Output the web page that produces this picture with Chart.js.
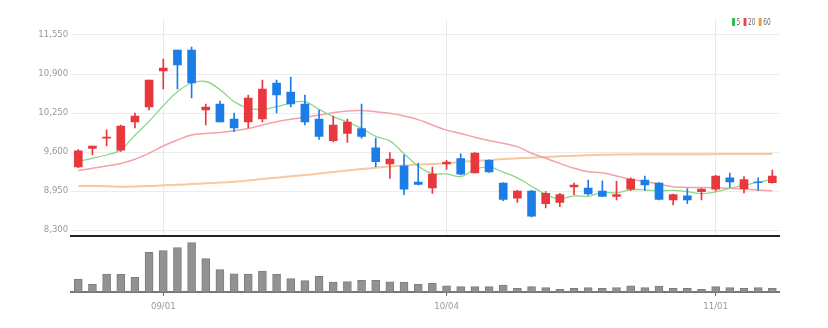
<!DOCTYPE html>
<html>
<head>
<meta charset="utf-8">
<script src="https://cdn.jsdelivr.net/npm/chart.js@4"></script>
<style>
  html, body { margin: 0; padding: 0; background: #fff; }
  #wrap { position: relative; width: 828px; height: 328px; overflow: hidden; }
  #price { position: absolute; left: 0; top: 0; }
  #volume { position: absolute; left: 0; top: 236px; }
  #legend {
    position: absolute; right: 57px; top: 16px;
    font: 9px 'Liberation Sans Narrow', 'DejaVu Sans Condensed', 'Liberation Sans', sans-serif;
    color: #666; line-height: 12px; white-space: nowrap;
    transform: scaleX(0.72); transform-origin: right center;
  }
  #legend .sw { display: inline-block; width: 4px; height: 8px; margin: 0 2px 0 5px; vertical-align: -1px; }
</style>
</head>
<body>
<div id="wrap">
  <canvas id="price" width="828" height="238" style="width:828px;height:238px"></canvas>
  <canvas id="volume" width="828" height="92" style="width:828px;height:92px"></canvas>
  <div id="legend"></div>
</div>
<script>
// Trading days (MM/DD)
const dates = [
  '08/24','08/25','08/26','08/29','08/30','08/31','09/01','09/02','09/05','09/06',
  '09/07','09/08','09/13','09/14','09/15','09/16','09/19','09/20','09/21','09/22',
  '09/23','09/26','09/27','09/28','09/29','09/30','10/04','10/05','10/06','10/07',
  '10/11','10/12','10/13','10/14','10/17','10/18','10/19','10/20','10/21','10/24',
  '10/25','10/26','10/27','10/28','10/31','11/01','11/02','11/03','11/04','11/07'
];
const tickLabels = ['09/01', '10/04', '11/01'];
const priceTicks = [8300, 8950, 9600, 10250, 10900, 11550];

const opens = [
  9350, 9660, 9830, 9630, 10100, 10350, 10950, 11300, 11300, 10300,
  10400, 10150, 10100, 10150, 10750, 10600, 10400, 10150, 9790, 9910,
  9990, 9670, 9400, 9370, 9100, 9000, 9400, 9490, 9250, 9460,
  9080, 8830, 8950, 8740, 8760, 9020, 9000, 8950, 8860, 8980,
  9130, 9080, 8800, 8870, 8940, 8980, 9170, 8990, 9100, 9090
];
const highs = [
  9640, 9700, 9970, 10050, 10250, 10800, 11150, 11300, 11350, 10400,
  10450, 10250, 10550, 10800, 10800, 10850, 10550, 10300, 10200, 10150,
  10400, 9830, 9590, 9550, 9410, 9350, 9460, 9570, 9590, 9470,
  9090, 8960, 8960, 8940, 8910, 9080, 9130, 9120, 9110, 9170,
  9200, 9090, 8900, 8990, 8990, 9210, 9250, 9190, 9170, 9300
];
const lows = [
  9340, 9550, 9700, 9610, 10000, 10300, 10650, 10650, 10500, 10050,
  10100, 9940, 10000, 10100, 10250, 10350, 10050, 9810, 9770, 9760,
  9830, 9350, 9160, 8890, 9050, 8910, 9310, 9220, 9250, 9260,
  8790, 8760, 8520, 8670, 8690, 8890, 8880, 8860, 8800, 8960,
  8960, 8800, 8720, 8740, 8800, 8950, 9010, 8920, 8960, 9080
];
const closes = [
  9620, 9700, 9850, 10030, 10200, 10800, 11000, 11050, 10750, 10350,
  10100, 10000, 10500, 10650, 10550, 10400, 10100, 9860, 10050, 10100,
  9860, 9440, 9480, 8980, 9060, 9230, 9430, 9230, 9580, 9270,
  8810, 8950, 8530, 8910, 8890, 9050, 8900, 8860, 8890, 9150,
  9050, 8810, 8890, 8800, 8980, 9200, 9100, 9140, 9090, 9200
];
const volumes = [
  310000, 185000, 440000, 435000, 360000, 985000, 1025000, 1100000, 1225000, 825000,
  550000, 445000, 440000, 515000, 435000, 325000, 275000, 385000, 240000, 250000,
  285000, 285000, 245000, 240000, 185000, 210000, 145000, 125000, 125000, 125000,
  165000, 85000, 125000, 100000, 60000, 85000, 100000, 85000, 100000, 145000,
  100000, 140000, 85000, 85000, 60000, 125000, 100000, 85000, 100000, 85000
];
// Moving averages (5, 20, 60 days)
const ma5 = [
  9440, 9495, 9550, 9635, 9880, 10110, 10370, 10605, 10750, 10775,
  10640, 10440, 10330, 10310, 10355, 10415, 10440, 10310, 10190, 10100,
  9995, 9860, 9785, 9570, 9365, 9240, 9235, 9190, 9310, 9350,
  9265, 9170, 9030, 8895, 8820, 8870, 8860, 8925, 8920, 8970,
  8970, 8950, 8960, 8940, 8905, 8935, 8995, 9045, 9100, 9145
];
const ma20 = [
  9290, 9330, 9365, 9410, 9480, 9580, 9700, 9800, 9885, 9910,
  9925, 9955, 9990, 10050, 10105, 10145, 10180, 10215, 10255, 10285,
  10290, 10270, 10245, 10200, 10140, 10050, 9965, 9910, 9845, 9790,
  9745, 9690, 9580, 9495, 9410, 9330, 9270, 9255, 9200, 9145,
  9105, 9065, 9020, 9010, 9010, 9005, 8995, 8980, 8965, 8955
];
const ma60 = [
  9035, 9033, 9030, 9022, 9025, 9033, 9045, 9055, 9065, 9078,
  9090, 9105, 9125, 9150, 9172, 9195, 9215, 9240, 9265, 9290,
  9315, 9338, 9358, 9376, 9392, 9400, 9412, 9433, 9450, 9467,
  9483, 9495, 9505, 9517, 9528, 9538, 9547, 9553, 9558, 9560,
  9562, 9562, 9562, 9563, 9564, 9565, 9565, 9566, 9566, 9567
];
const maNames = ['5', '20', '60'];
const maKeyColors = ['#2fb84a', '#ec3f47', '#f39a33'];

const UP = '#e8383d';
const DOWN = '#1d7de6';
const NARROW = "'Liberation Sans Narrow', 'DejaVu Sans Condensed', 'Liberation Sans', sans-serif";
const PLOT_LEFT = 71.2;
const PAD_RIGHT = 48.6;

Chart.defaults.font.family = NARROW;
Chart.defaults.animation = false;

const candleColors = opens.map((o, i) => (closes[i] >= o ? UP : DOWN));
const isLabelled = (i) => tickLabels.includes(dates[i]);

// Legend key for the moving averages
const legendEl = document.getElementById('legend');
maNames.forEach((name, i) => {
  const sw = document.createElement('span');
  sw.className = 'sw';
  sw.style.background = maKeyColors[i];
  legendEl.appendChild(sw);
  legendEl.appendChild(document.createTextNode(name));
});

new Chart(document.getElementById('price'), {
  type: 'bar',
  data: {
    labels: dates,
    datasets: [
      {
        label: 'body',
        data: opens.map((o, i) => [o, closes[i]]),
        backgroundColor: candleColors,
        barThickness: 8,
        grouped: false,
        order: 0
      },
      {
        label: 'wick',
        data: lows.map((l, i) => [l, highs[i]]),
        backgroundColor: candleColors,
        barThickness: 1,
        grouped: false,
        order: 1
      },
      {
        type: 'line', label: maNames[0], data: ma5,
        borderColor: '#8ad887', borderWidth: 1.3, pointRadius: 0, tension: 0.4, order: 2
      },
      {
        type: 'line', label: maNames[1], data: ma20,
        borderColor: '#f3a2a5', borderWidth: 1.5, pointRadius: 0, tension: 0.4, order: 3
      },
      {
        type: 'line', label: maNames[2], data: ma60,
        borderColor: '#f8c8a0', borderWidth: 2, pointRadius: 0, tension: 0.4, order: 4
      }
    ]
  },
  options: {
    responsive: false,
    layout: { padding: { left: 0, right: PAD_RIGHT, top: 20, bottom: 2 } },
    plugins: {
      tooltip: { enabled: false },
      legend: { display: false }
    },
    scales: {
      x: {
        offset: true,
        ticks: { display: false, autoSkip: false },
        grid: {
          offset: false,
          drawTicks: false,
          color: (c) => (isLabelled(c.index) ? '#e9e9e9' : 'rgba(0,0,0,0)')
        },
        border: { display: true, color: '#222', width: 2 },
        afterFit: (s) => { s.height = 0; s.paddingLeft = 0; s.paddingRight = 0; }
      },
      y: {
        min: 8200,
        max: 11800,
        afterBuildTicks: (s) => { s.ticks = priceTicks.map((v) => ({ value: v })); },
        afterFit: (s) => { s.width = PLOT_LEFT; s.paddingTop = 0; s.paddingBottom = 0; },
        ticks: {
          color: '#999',
          padding: 3,
          font: { size: 9.5, family: NARROW },
          callback: (v) => Number(v).toLocaleString('en-US')
        },
        grid: { color: '#ececec', drawTicks: false },
        border: { display: false }
      }
    }
  }
});

new Chart(document.getElementById('volume'), {
  type: 'bar',
  data: {
    labels: dates,
    datasets: [{
      label: 'volume',
      data: volumes,
      backgroundColor: '#929292',
      borderColor: '#7d7d7d',
      borderWidth: 1,
      borderSkipped: 'bottom',
      barThickness: 8
    }]
  },
  options: {
    responsive: false,
    layout: { padding: { left: PLOT_LEFT, right: PAD_RIGHT, top: 4, bottom: 0 } },
    plugins: { legend: { display: false }, tooltip: { enabled: false } },
    scales: {
      x: {
        offset: true,
        afterFit: (s) => { s.height = 36.3; s.paddingLeft = 0; s.paddingRight = 0; },
        ticks: {
          autoSkip: false,
          maxRotation: 0,
          padding: 5,
          color: '#999',
          font: { size: 9.5, family: NARROW },
          callback: (v, i) => (isLabelled(i) ? dates[i] : '')
        },
        grid: {
          offset: false,
          drawOnChartArea: false,
          drawTicks: true,
          tickLength: 4,
          tickColor: (c) => (isLabelled(c.index) ? '#555' : 'rgba(0,0,0,0)')
        },
        border: { display: true, color: '#777', width: 2 }
      },
      y: {
        display: false,
        min: 0,
        max: 1290000
      }
    }
  }
});
</script>
</body>
</html>
